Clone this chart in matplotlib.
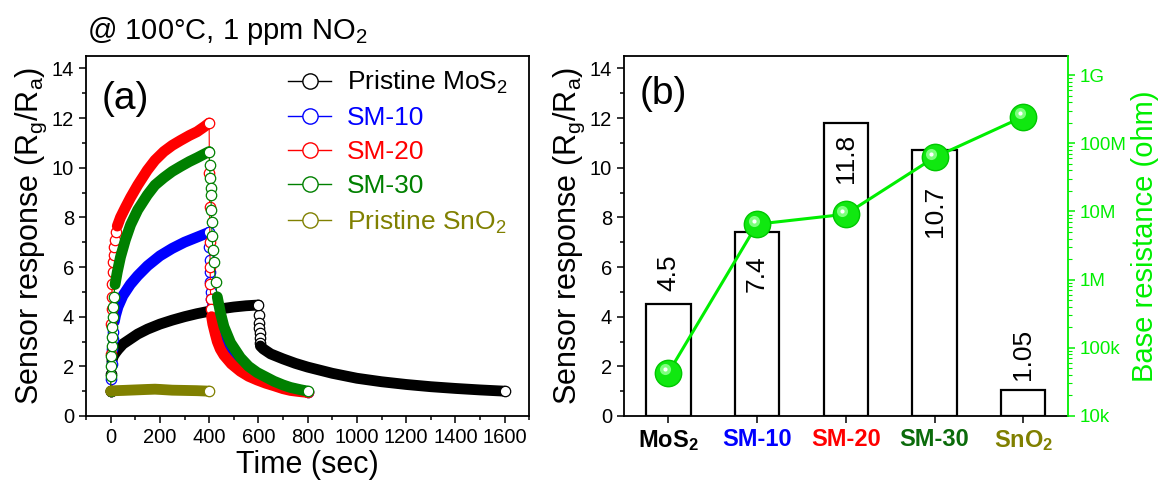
import numpy as np
import matplotlib
matplotlib.use('Agg')
import matplotlib.pyplot as plt
from matplotlib.lines import Line2D
from matplotlib.transforms import offset_copy

plt.rcParams['font.family'] = ['Liberation Sans', 'DejaVu Sans']
plt.rcParams['mathtext.fontset'] = 'custom'
plt.rcParams['mathtext.rm'] = 'Liberation Sans'
plt.rcParams['mathtext.it'] = 'Liberation Sans'
plt.rcParams['mathtext.bf'] = 'Liberation Sans:bold'

###################
### INPUT DATA ###
###################

# (a) transient response, time in s
mos2_t = [0, 2, 5, 10, 20, 30, 50, 80, 110, 150, 200, 250, 300, 350, 400, 450, 500, 550, 600,
          602, 603, 604, 605, 606, 607, 608, 620, 650, 700, 750, 800, 900, 1000, 1100, 1200,
          1300, 1400, 1500, 1600]
mos2_v = [1.0, 1.7, 2.2, 2.4, 2.55, 2.68, 2.9, 3.1, 3.3, 3.5, 3.7, 3.86, 4.0, 4.12, 4.22, 4.32,
          4.39, 4.44, 4.47, 4.05, 3.76, 3.56, 3.36, 3.16, 2.95, 2.82, 2.7, 2.5, 2.3, 2.12, 1.97,
          1.72, 1.52, 1.38, 1.27, 1.18, 1.11, 1.05, 1.0]

sm10_t = [0, 2, 4, 6, 8, 10, 15, 20, 30, 50, 80, 110, 150, 200, 250, 300, 350, 400, 401, 402,
          403, 404, 406, 408, 412, 420, 433, 446, 460, 490, 527, 560, 595, 630, 663, 700, 730,
          770, 800]
sm10_v = [1.0, 1.5, 2.1, 2.7, 3.1, 3.4, 3.8, 4.05, 4.4, 4.85, 5.3, 5.65, 6.05, 6.45, 6.75, 7.0,
          7.2, 7.4, 6.8, 6.3, 5.8, 5.4, 5.0, 4.7, 4.4, 4.1, 3.8, 3.4, 3.05, 2.6, 2.2, 1.9, 1.65,
          1.48, 1.33, 1.2, 1.12, 1.03, 0.98]

sm20_t = [0, 2, 3, 4, 5, 6, 8, 10, 12, 15, 18, 22, 27, 40, 60, 81, 110, 149, 180, 216, 250, 284,
          320, 351, 380, 400, 401, 402, 403, 404, 405, 406, 408, 410, 415, 425, 433, 445, 460,
          490, 527, 560, 595, 630, 663, 700, 730, 770, 800]
sm20_v = [1.0, 2.5, 3.7, 4.3, 4.8, 5.3, 5.8, 6.2, 6.5, 6.8, 7.1, 7.4, 7.65, 8.0, 8.4, 8.8, 9.3,
          9.9, 10.3, 10.65, 10.9, 11.1, 11.3, 11.45, 11.65, 11.8, 9.8, 8.4, 7.0, 6.0, 5.3, 4.7,
          4.3, 4.0, 3.7, 3.3, 3.0, 2.7, 2.45, 2.1, 1.8, 1.6, 1.45, 1.32, 1.22, 1.1, 1.03, 0.98,
          0.95]

sm30_t = [0, 1, 2, 3, 4, 5, 6, 8, 10, 13, 18, 27, 40, 60, 81, 110, 149, 180, 216, 250, 284,
          320, 351, 380, 400, 402, 404, 406, 407, 409, 410, 412, 415, 419, 426, 433, 446, 460,
          487, 527, 560, 595, 630, 663, 700, 730, 770, 800]
sm30_v = [1.0, 1.6, 2.0, 2.4, 2.8, 3.2, 3.6, 4.0, 4.4, 4.8, 5.3, 5.8, 6.4, 7.1, 7.7, 8.3, 8.9,
          9.3, 9.6, 9.85, 10.05, 10.25, 10.4, 10.55, 10.65, 10.1, 9.6, 9.2, 8.9, 8.3, 7.8, 7.25,
          6.7, 6.2, 5.4, 4.8, 4.15, 3.6, 2.95, 2.35, 2.0, 1.75, 1.57, 1.4, 1.25, 1.15, 1.06, 1.0]

sno2_t = [0, 20, 50, 100, 150, 180, 200, 250, 300, 350, 400]
sno2_v = [1.0, 1.02, 1.03, 1.05, 1.07, 1.08, 1.07, 1.04, 1.03, 1.02, 1.0]

legend_labels = ['Pristine MoS$_2$', 'SM-10', 'SM-20', 'SM-30', 'Pristine SnO$_2$']

# (b) summary
samples = [r'MoS$_\mathbf{2}$', 'SM-10', 'SM-20', 'SM-30', r'SnO$_\mathbf{2}$']
response = [4.5, 7.4, 11.8, 10.7, 1.05]
response_text = ['4.5', '7.4', '11.8', '10.7', '1.05']
resistance = [4.3e4, 6.5e6, 9.1e6, 6.2e7, 2.45e8]
res_ticks = [1e4, 1e5, 1e6, 1e7, 1e8, 1e9]
res_ticklabels = ['10k', '100k', '1M', '10M', '100M', '1G']

# styles
c_mos2, c_sm10, c_sm20, c_sm30, c_sno2 = 'black', '#0000ff', '#ff0000', '#008000', '#808000'
tick_colors = ['black', '#0000ff', '#ff0000', '#0b6b0b', '#808000']
label_y = [5.75, 5.75, 10.38, 8.23, 2.49]
lime = '#00ee00'


def draw_curve(ax, t, v, color, bands, z):
    t = np.asarray(t, float)
    v = np.asarray(v, float)
    inside = np.zeros(len(t), bool)
    for a, b in bands:
        inside |= (t >= a) & (t <= b)
    ax.plot(t, v, color=color, lw=0.8, zorder=z)
    ax.plot(t[~inside], v[~inside], 'o', ms=7.5, mfc='white', mec=color, mew=0.9,
            ls='none', zorder=z)
    for a, b in bands:
        m = (t >= a) & (t <= b)
        ax.plot(t[m], v[m], color=color, lw=7.8, solid_capstyle='round',
                solid_joinstyle='round', zorder=z)
        ax.plot(t[m][-1], v[m][-1], 'o', ms=7.5, mfc='white', mec=color, mew=0.9, zorder=z)


fig = plt.figure(figsize=(11.59, 4.84), dpi=100)
ax = fig.add_axes([0.0742, 0.1405, 0.3825, 0.7438])
ax2 = fig.add_axes([0.5384, 0.1405, 0.3828, 0.7438])

### (a) ###
draw_curve(ax, mos2_t, mos2_v, c_mos2, [(5, 600), (608, 1600)], 2)
draw_curve(ax, sm10_t, sm10_v, c_sm10, [(15, 400), (412, 800)], 3)
draw_curve(ax, sm20_t, sm20_v, c_sm20, [(27, 400), (410, 800)], 4)
draw_curve(ax, sm30_t, sm30_v, c_sm30, [(18, 400), (433, 800)], 5)
draw_curve(ax, sno2_t, sno2_v, c_sno2, [(0, 400)], 6)

ax.set_xlim(-100, 1700)
ax.set_ylim(0, 14.5)
ax.set_xticks(np.arange(0, 1601, 200))
ax.set_xticks(np.arange(-100, 1701, 100), minor=True)
ax.set_yticks(np.arange(0, 15, 2))
ax.set_yticks(np.arange(0, 15, 1), minor=True)
ax.set_xlabel('Time (sec)', fontsize=22, labelpad=2)
ax.set_ylabel('Sensor response (R$_g$/R$_a$)', fontsize=22, labelpad=2)
ax.text(0.035, 0.88, '(a)', transform=ax.transAxes, fontsize=28, va='center')

cols = [c_mos2, c_sm10, c_sm20, c_sm30, c_sno2]
handles = [Line2D([], [], color=c, lw=1, marker='o', ms=11, mfc='white', mec=c, mew=1)
           for c in cols]
ax.legend(handles, legend_labels, loc='upper left', bbox_to_anchor=(0.414, 1.015),
          frameon=False, fontsize=19, labelcolor=cols, handlelength=1.63,
          handletextpad=0.6, labelspacing=0.38, borderaxespad=0.3)

### (b) ###
x = np.arange(len(samples))
ax2.bar(x, response, width=0.5, facecolor='white', edgecolor='black', lw=1.6, zorder=2)
for i in x:
    ax2.text(i, label_y[i], response_text[i], rotation=90, ha='center', va='center',
             fontsize=19, zorder=3)
ax2.set_xlim(-0.5, 4.5)
ax2.set_ylim(0, 14.5)
ax2.set_yticks(np.arange(0, 15, 2))
ax2.set_yticks(np.arange(0, 15, 1), minor=True)
ax2.set_xticks(x)
ax2.set_xticklabels(samples, fontsize=17, fontweight='bold')
for lab, c in zip(ax2.get_xticklabels(), tick_colors):
    lab.set_color(c)
ax2.set_ylabel('Sensor response (R$_g$/R$_a$)', fontsize=22, labelpad=2)
ax2.text(0.036, 0.895, '(b)', transform=ax2.transAxes, fontsize=28, va='center')
ax2.spines['right'].set_visible(False)

ax3 = ax2.twinx()
ax3.set_yscale('log')
ax3.set_ylim(1e4, 1.9e9)
ax3.plot(x, resistance, color=lime, lw=2.2, zorder=4)
ax3.plot(x, resistance, 'o', ms=19, mfc='#10e810', mec='#00c800', mew=1, ls='none', zorder=5)
hl = offset_copy(ax3.transData, fig=fig, x=-2.5, y=2.5, units='points')
ax3.plot(x, resistance, 'o', ms=8, mfc='#7dff7d', mec='none', ls='none', zorder=6, transform=hl)
ax3.plot(x, resistance, 'o', ms=3, mfc='white', mec='none', ls='none', zorder=7, transform=hl)
ax3.set_yticks(res_ticks)
ax3.set_yticklabels(res_ticklabels)
ax3.set_ylabel('Base resistance (ohm)', fontsize=21, color=lime, labelpad=3)
ax3.spines['right'].set_color(lime)
ax3.spines['right'].set_linewidth(1.3)
ax3.tick_params(axis='y', which='both', colors=lime, labelsize=13.5, direction='out')
ax3.tick_params(axis='y', which='major', length=5, width=1.1)
ax3.tick_params(axis='y', which='minor', length=3, width=0.8)
for s in ['left', 'top', 'bottom']:
    ax3.spines[s].set_visible(False)

for a in (ax, ax2):
    for s in a.spines.values():
        s.set_linewidth(1.3)
    a.tick_params(which='both', direction='out', labelsize=14.5, width=1.1)
    a.tick_params(which='major', length=5)
    a.tick_params(which='minor', length=3)
ax2.tick_params(axis='x', labelsize=17, length=5)

fig.text(87 / 1159, 1 - 39.3 / 484, '@ 100°C, 1 ppm NO$_2$', fontsize=21, va='baseline')

plt.savefig('out.png', dpi=100)
